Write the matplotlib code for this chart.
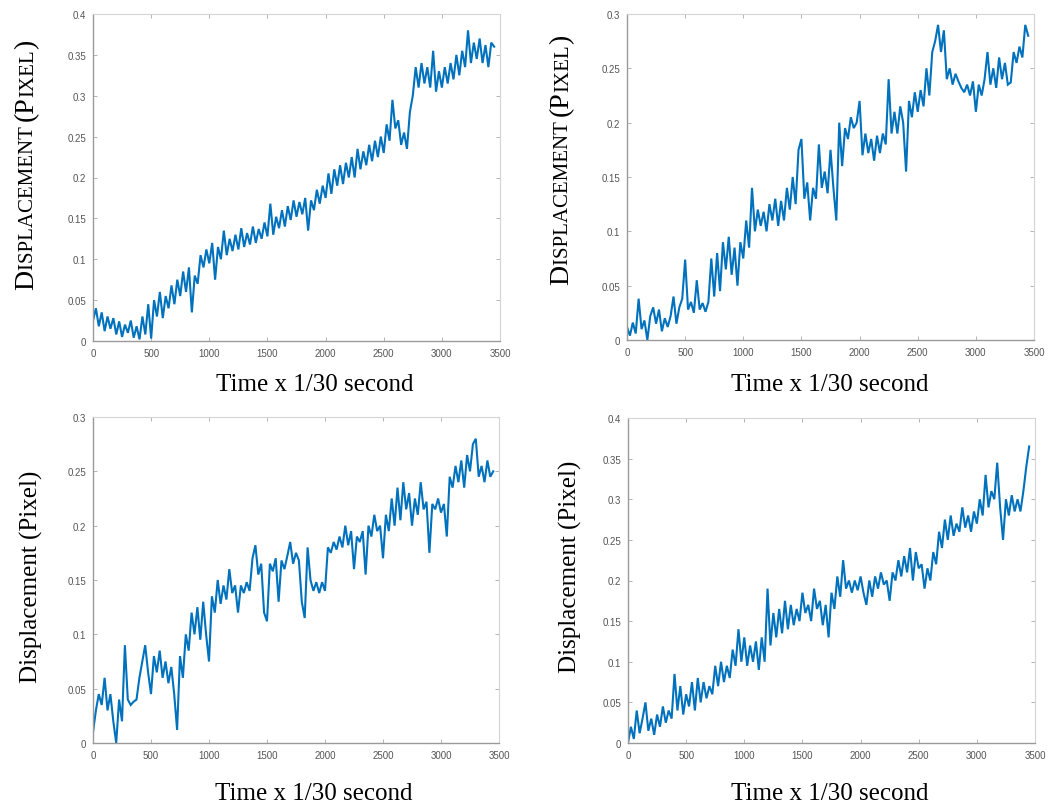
#!/usr/bin/env python3
"""Four displacement-vs-time panels (MATLAB style), redrawn with matplotlib."""

import matplotlib

matplotlib.use("Agg")
import matplotlib.pyplot as plt
import numpy as np

W, H = 1062, 812

frames = np.arange(0, 3451, 25)

disp_tl = [
    0.025, 0.04, 0.018, 0.035, 0.012, 0.03, 0.015, 0.028, 0.008, 0.024,
    0.005, 0.02, 0.01, 0.025, 0.004, 0.018, 0.002, 0.03, 0.008, 0.045,
    0.003, 0.05, 0.03, 0.06, 0.028, 0.055, 0.04, 0.068, 0.045, 0.075,
    0.055, 0.085, 0.06, 0.09, 0.035, 0.08, 0.07, 0.105, 0.09, 0.112,
    0.095, 0.12, 0.075, 0.115, 0.1, 0.135, 0.105, 0.125, 0.11, 0.13,
    0.112, 0.138, 0.115, 0.132, 0.118, 0.14, 0.12, 0.137, 0.125, 0.145,
    0.128, 0.168, 0.13, 0.152, 0.138, 0.16, 0.14, 0.165, 0.148, 0.172,
    0.152, 0.17, 0.155, 0.175, 0.135, 0.172, 0.16, 0.185, 0.168, 0.19,
    0.175, 0.205, 0.18, 0.21, 0.19, 0.215, 0.192, 0.218, 0.2, 0.225,
    0.2, 0.235, 0.21, 0.232, 0.215, 0.24, 0.22, 0.245, 0.225, 0.25,
    0.23, 0.265, 0.245, 0.295, 0.26, 0.27, 0.24, 0.255, 0.235, 0.28,
    0.3, 0.335, 0.31, 0.34, 0.315, 0.335, 0.31, 0.355, 0.305, 0.33,
    0.31, 0.335, 0.315, 0.34, 0.32, 0.35, 0.325, 0.355, 0.335, 0.38,
    0.34, 0.365, 0.345, 0.37, 0.34, 0.362, 0.335, 0.365, 0.36,
]

disp_tr = [
    0.012, 0.004, 0.016, 0.006, 0.038, 0.01, 0.018, 0.0, 0.022, 0.03,
    0.015, 0.028, 0.008, 0.02, 0.012, 0.022, 0.04, 0.015, 0.03, 0.038,
    0.074, 0.028, 0.035, 0.025, 0.055, 0.028, 0.034, 0.026, 0.035, 0.075,
    0.04, 0.08, 0.045, 0.09, 0.065, 0.095, 0.06, 0.085, 0.05, 0.09,
    0.075, 0.11, 0.085, 0.14, 0.1, 0.12, 0.105, 0.118, 0.1, 0.125,
    0.11, 0.13, 0.105, 0.128, 0.11, 0.14, 0.12, 0.15, 0.125, 0.175,
    0.185, 0.13, 0.145, 0.11, 0.14, 0.13, 0.18, 0.14, 0.155, 0.135,
    0.175, 0.14, 0.11, 0.2, 0.16, 0.195, 0.185, 0.205, 0.195, 0.2,
    0.22, 0.17, 0.19, 0.172, 0.185, 0.165, 0.188, 0.172, 0.19, 0.18,
    0.24, 0.19, 0.21, 0.19, 0.215, 0.2, 0.155, 0.22, 0.205, 0.228,
    0.21, 0.23, 0.215, 0.25, 0.225, 0.265, 0.275, 0.29, 0.265, 0.285,
    0.24, 0.25, 0.235, 0.245, 0.238, 0.232, 0.228, 0.235, 0.225, 0.238,
    0.21, 0.235, 0.225, 0.24, 0.265, 0.235, 0.25, 0.232, 0.26, 0.24,
    0.255, 0.235, 0.237, 0.265, 0.255, 0.27, 0.26, 0.29, 0.28,
]

disp_bl = [
    0.01, 0.03, 0.045, 0.035, 0.06, 0.03, 0.045, 0.02, 0.0, 0.04,
    0.02, 0.09, 0.04, 0.035, 0.038, 0.04, 0.06, 0.075, 0.09, 0.065,
    0.045, 0.08, 0.065, 0.085, 0.06, 0.075, 0.055, 0.07, 0.045, 0.012,
    0.08, 0.06, 0.1, 0.085, 0.12, 0.1, 0.125, 0.095, 0.13, 0.1,
    0.075, 0.135, 0.12, 0.15, 0.128, 0.145, 0.132, 0.16, 0.138, 0.145,
    0.12, 0.145, 0.138, 0.148, 0.14, 0.17, 0.182, 0.155, 0.165, 0.12,
    0.112, 0.165, 0.158, 0.17, 0.13, 0.168, 0.16, 0.172, 0.185, 0.165,
    0.175, 0.168, 0.13, 0.115, 0.18, 0.15, 0.14, 0.148, 0.138, 0.148,
    0.14, 0.18, 0.175, 0.185, 0.178, 0.19, 0.18, 0.2, 0.182, 0.195,
    0.16, 0.19, 0.185, 0.195, 0.155, 0.2, 0.19, 0.21, 0.195, 0.2,
    0.17, 0.21, 0.195, 0.225, 0.2, 0.235, 0.205, 0.24, 0.215, 0.23,
    0.2, 0.225, 0.21, 0.24, 0.215, 0.222, 0.175, 0.22, 0.215, 0.225,
    0.212, 0.22, 0.19, 0.245, 0.235, 0.255, 0.24, 0.26, 0.235, 0.265,
    0.25, 0.275, 0.28, 0.245, 0.255, 0.24, 0.26, 0.245, 0.25,
]

disp_br = [
    0.0, 0.02, 0.005, 0.04, 0.012, 0.03, 0.05, 0.015, 0.03, 0.01,
    0.035, 0.02, 0.045, 0.025, 0.04, 0.03, 0.085, 0.04, 0.07, 0.035,
    0.06, 0.045, 0.075, 0.04, 0.08, 0.05, 0.075, 0.055, 0.07, 0.06,
    0.095, 0.07, 0.1, 0.075, 0.095, 0.08, 0.115, 0.095, 0.14, 0.1,
    0.13, 0.095, 0.12, 0.1, 0.125, 0.09, 0.13, 0.1, 0.19, 0.12,
    0.16, 0.13, 0.165, 0.135, 0.175, 0.14, 0.17, 0.145, 0.165, 0.15,
    0.185, 0.16, 0.17, 0.15, 0.19, 0.165, 0.175, 0.145, 0.17, 0.13,
    0.185, 0.165, 0.205, 0.18, 0.225, 0.19, 0.2, 0.185, 0.2, 0.188,
    0.205, 0.185, 0.17, 0.2, 0.18, 0.205, 0.19, 0.21, 0.195, 0.2,
    0.175, 0.21, 0.2, 0.225, 0.205, 0.23, 0.21, 0.24, 0.2, 0.235,
    0.215, 0.22, 0.19, 0.215, 0.2, 0.235, 0.22, 0.26, 0.24, 0.275,
    0.25, 0.28, 0.255, 0.27, 0.26, 0.29, 0.265, 0.28, 0.26, 0.285,
    0.27, 0.3, 0.28, 0.33, 0.29, 0.31, 0.3, 0.345, 0.29, 0.25,
    0.3, 0.28, 0.305, 0.285, 0.3, 0.285, 0.31, 0.34, 0.365,
]

x_ticks = [0, 500, 1000, 1500, 2000, 2500, 3000, 3500]
ymax_tl, ymax_tr, ymax_bl, ymax_br = 0.4, 0.3, 0.3, 0.4

LINE_COLOR = "#0072BD"
SERIF = "Liberation Serif"


def px_box(left, top, right, bottom):
    return [left / W, 1 - bottom / H, (right - left) / W, (bottom - top) / H]


def style_axes(ax, ymax):
    ax.set_xlim(0, 3500)
    ax.set_ylim(0, ymax)
    ax.set_xticks(x_ticks)
    ax.set_yticks(np.arange(0, ymax + 1e-9, 0.05))
    ax.yaxis.set_major_formatter(matplotlib.ticker.FuncFormatter(lambda v, _: f"{v:g}"))
    ax.tick_params(direction="in", length=3, width=0.6, color="#a8a8a8",
                   labelsize=7, labelcolor="#555555", pad=5,
                   top=True, right=True)
    for lab in ax.get_xticklabels() + ax.get_yticklabels():
        lab.set_family("Liberation Sans")
    for side in ("left", "bottom"):
        ax.spines[side].set_color("#9a9a9a")
        ax.spines[side].set_linewidth(1.0)
    for side in ("top", "right"):
        ax.spines[side].set_color("#d4d4d4")
        ax.spines[side].set_linewidth(0.8)


def small_caps_vertical(fig, renderer, pieces, x_px, yc_px):
    """Stack rotated text pieces so they read like small caps."""
    widths = []
    for text, size in pieces:
        t = fig.text(0, 0, text, fontsize=size, family=SERIF)
        widths.append(t.get_window_extent(renderer).width)
        t.remove()
    y = yc_px + sum(widths) / 2
    for (text, size), w in zip(pieces, widths):
        fig.text(x_px / W, 1 - y / H, text, fontsize=size, family=SERIF,
                 rotation=90, rotation_mode="anchor", ha="left", va="baseline")
        y -= w


fig = plt.figure(figsize=(W / 100, H / 100), dpi=100)
renderer = fig.canvas.get_renderer()

panels = [
    (px_box(93, 15, 500, 342), disp_tl, ymax_tl),
    (px_box(627, 15, 1034, 341), disp_tr, ymax_tr),
    (px_box(93, 418, 499, 744), disp_bl, ymax_bl),
    (px_box(628, 419, 1035, 744), disp_br, ymax_br),
]
for box, values, ymax in panels:
    ax = fig.add_axes(box)
    ax.plot(frames, values, color=LINE_COLOR, linewidth=1.5, solid_joinstyle="miter")
    style_axes(ax, ymax)

# x labels
for xc, yc in [(315, 385), (830, 385), (314, 794), (830, 794)]:
    fig.text(xc / W, 1 - yc / H, "Time x 1/30 second", fontsize=18,
             family=SERIF, ha="center", va="center")

# top row: small-caps y labels
caps = [("D", 20), ("ISPLACEMENT ", 15), ("(P", 20), ("IXEL", 15), (")", 20)]
small_caps_vertical(fig, renderer, caps, 33, 165)
small_caps_vertical(fig, renderer, caps, 568, 160)

# bottom row: plain y labels
for xc, yc in [(31, 577), (570, 567)]:
    fig.text(xc / W, 1 - yc / H, "Displacement (Pixel)", fontsize=18,
             family=SERIF, rotation=90, ha="center", va="center")

fig.savefig("out.png", dpi=100)
